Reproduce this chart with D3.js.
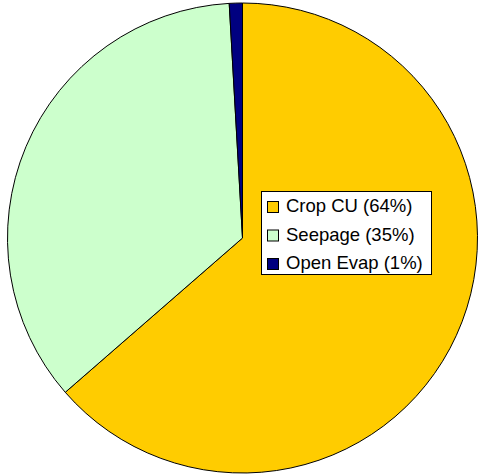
<!DOCTYPE html>
<html><head><meta charset="utf-8">
<script src="https://cdn.jsdelivr.net/npm/d3@7"></script>
<style>body{margin:0;background:#fff}svg{display:block}</style>
</head><body>
<svg id="c" width="479" height="476"></svg>
<script>
const categories = ["Crop CU", "Seepage", "Open Evap"];
const values = [63.6, 35.5, 0.9];
const labels = ["Crop CU (64%)", "Seepage (35%)", "Open Evap (1%)"];
const colors = ["#FFCC00", "#CCFFCC", "#000080"];

const svg = d3.select("#c");
const cx = 242.5, cy = 238, r = 235;
const pie = d3.pie().sort(null).value(d => d)(values);
const arc = d3.arc().innerRadius(0).outerRadius(r);
const g = svg.append("g").attr("transform", `translate(${cx},${cy})`);
g.selectAll("path").data(pie).join("path")
  .attr("d", arc)
  .attr("fill", (d, i) => colors[i])
  .attr("stroke", "#000").attr("stroke-width", 1).attr("stroke-linejoin", "round");

const lg = svg.append("g").attr("transform", "translate(261,191)");
lg.append("rect").attr("x", 0.5).attr("y", 0.5).attr("width", 170).attr("height", 83)
  .attr("fill", "#fff").attr("stroke", "#000").attr("stroke-width", 1);
const rows = lg.selectAll("g.row").data(categories).join("g")
  .attr("class", "row")
  .attr("transform", (d, i) => `translate(0,${21 + i * 28.5})`);
rows.append("rect").attr("x", 6.5).attr("y", -10.5).attr("width", 11).attr("height", 11)
  .attr("fill", (d, i) => colors[i]).attr("stroke", "#000").attr("stroke-width", 1);
rows.append("text").attr("x", 25).attr("y", 0)
  .attr("font-family", "Liberation Sans, Arial, sans-serif").attr("font-size", 18.5)
  .attr("fill", "#000").text((d, i) => labels[i]);
</script>
</body></html>
